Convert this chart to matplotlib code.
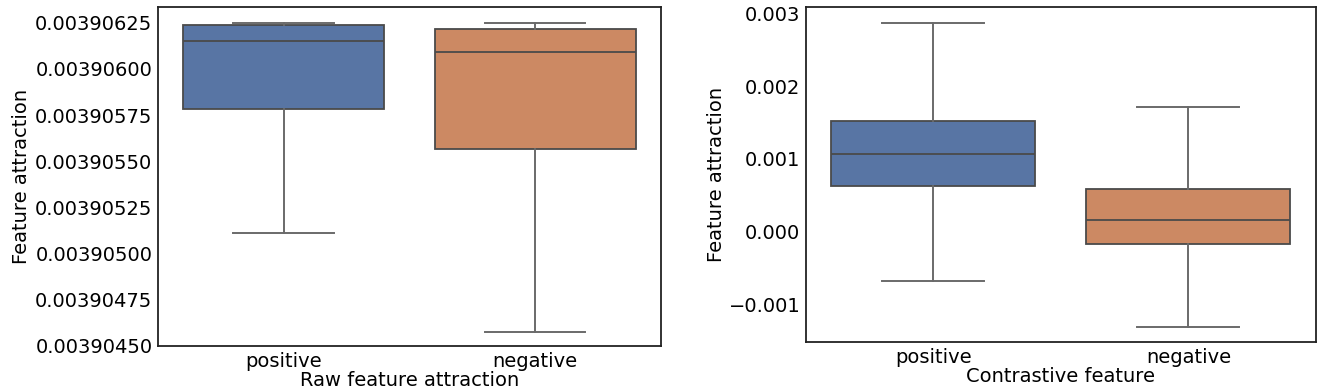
import matplotlib
matplotlib.use("Agg")
import matplotlib.pyplot as plt

# categorias e estatisticas das caixas
categorias = ["positive", "negative"]
cores = ["#5875A4", "#CC8963"]

# painel esquerdo: Raw feature attraction
raw_whislo = [0.00390511, 0.003904578]
raw_q1 = [0.003905782, 0.003905565]
raw_med = [0.003906149, 0.003906089]
raw_q3 = [0.003906236, 0.003906216]
raw_whishi = [0.00390625, 0.00390625]
raw_ticks = [0.0039045, 0.00390475, 0.003905, 0.00390525, 0.0039055,
             0.00390575, 0.003906, 0.00390625]

# painel direito: Contrastive feature
con_whislo = [-0.000672, -0.001303]
con_q1 = [0.000631, -0.000173]
con_med = [0.001075, 0.00016]
con_q3 = [0.001528, 0.000582]
con_whishi = [0.00287, 0.001711]
con_ticks = [-0.001, 0.0, 0.001, 0.002, 0.003]

cor_caixa = "#4a4a4a"
cor_bigode = "#6a6a6a"


def monta_stats(lo, q1, med, q3, hi):
    return [dict(whislo=a, q1=b, med=c, q3=d, whishi=e, fliers=[], label=n)
            for a, b, c, d, e, n in zip(lo, q1, med, q3, hi, categorias)]


def desenha(ax, stats):
    bp = ax.bxp(stats, positions=[0, 1], widths=0.8, patch_artist=True,
                showfliers=False, capwidths=0.4,
                boxprops=dict(edgecolor=cor_caixa, linewidth=1.3),
                medianprops=dict(color=cor_caixa, linewidth=1.3),
                whiskerprops=dict(color=cor_bigode, linewidth=1.4),
                capprops=dict(color=cor_bigode, linewidth=1.4))
    for caixa, cor in zip(bp["boxes"], cores):
        caixa.set_facecolor(cor)
    ax.set_xlim(-0.5, 1.5)
    ax.tick_params(length=0, labelsize=14, pad=4)
    for s in ax.spines.values():
        s.set_linewidth(1.3)
        s.set_color("#222222")


fig = plt.figure(figsize=(13.25, 3.91), dpi=100)

ax1 = fig.add_axes([0.1192, 0.1151, 0.3796, 0.867])
desenha(ax1, monta_stats(raw_whislo, raw_q1, raw_med, raw_q3, raw_whishi))
ax1.set_ylim(0.0039045, 0.003906335)
ax1.set_yticks(raw_ticks)
ax1.set_yticklabels([f"{v:.8f}" for v in raw_ticks])
ax1.set_ylabel("Feature attraction", fontsize=14, labelpad=3)
ax1.set_xlabel("Raw feature attraction", fontsize=14, labelpad=0)

ax2 = fig.add_axes([0.6083, 0.1253, 0.3849, 0.8568])
desenha(ax2, monta_stats(con_whislo, con_q1, con_med, con_q3, con_whishi))
ax2.set_ylim(-0.001513, 0.003087)
ax2.set_yticks(con_ticks)
ax2.set_ylabel("Feature attraction", fontsize=14, labelpad=2)
ax2.set_xlabel("Contrastive feature", fontsize=14, labelpad=0)

fig.savefig("out.png", dpi=100)
